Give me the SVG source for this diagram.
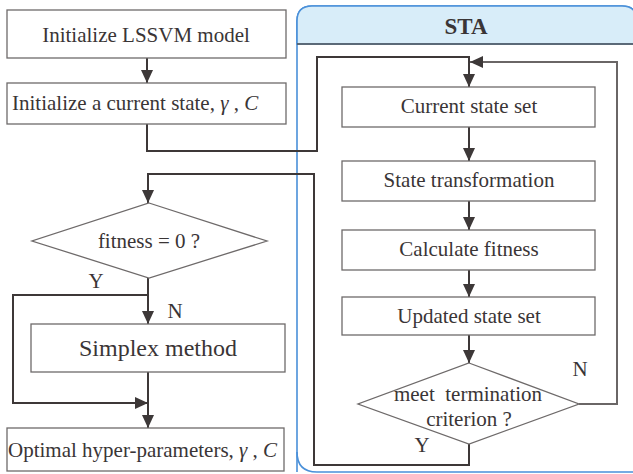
<svg xmlns="http://www.w3.org/2000/svg" width="633" height="474" viewBox="0 0 633 474">
<style>
.box{fill:#ffffff;stroke:#6e6a6a;stroke-width:1.3}
.t{font-family:'Liberation Serif','DejaVu Serif',serif;font-size:21px;fill:#3a3536}
.c{text-anchor:middle}
.conn{fill:none;stroke:#3d3838;stroke-width:2}
</style>
<defs>
<marker id="ah" markerUnits="userSpaceOnUse" markerWidth="13" markerHeight="12" refX="13" refY="6" orient="auto">
<path d="M0,0 L13,6 L0,12 z" fill="#3d3838"/>
</marker>
</defs>
<g id="sta-panel">
<path d="M297,472 L297,21 Q297,6 312,6 L622,6 Q637,6 637,21 L637,472" fill="#ffffff" stroke="#4a90d9" stroke-width="1.6"/>
<path d="M297,44 L297,21 Q297,6 312,6 L622,6 Q637,6 637,21 L637,44 z" fill="#d8edf9" stroke="#4a90d9" stroke-width="1.6"/>
<line x1="297" y1="44" x2="637" y2="44" stroke="#555" stroke-width="1.4"/>
<path d="M297,452 Q297,472 317,472 L637,472" fill="none" stroke="#4a90d9" stroke-width="1.6"/>
<text class="t c" x="466" y="34" style="font-weight:bold;font-size:23px">STA</text>
</g>
<g id="connectors">
<path class="conn" d="M147,58 L147,83" marker-end="url(#ah)"/>
<path class="conn" d="M147,124 L147,151 L317,151 L317,57 L469,57 L469,87" marker-end="url(#ah)"/>
<path class="conn" d="M469,127 L469,161" marker-end="url(#ah)"/>
<path class="conn" d="M469,201 L469,230" marker-end="url(#ah)"/>
<path class="conn" d="M469,270 L469,297" marker-end="url(#ah)"/>
<path class="conn" d="M469,335 L469,363" marker-end="url(#ah)"/>
<path class="conn" d="M579,404 L617,404 L617,62 L470,62" marker-end="url(#ah)" style="stroke:#6a6666"/>
<path class="conn" d="M469,444 L469,465 L314,465 L314,174 L148,174 L148,203" marker-end="url(#ah)"/>
<path class="conn" d="M148,278 L148,324" marker-end="url(#ah)"/>
<path class="conn" d="M148,295 L13,295 L13,403 L148,403" marker-end="url(#ah)"/>
<path class="conn" d="M148,372 L148,428" marker-end="url(#ah)"/>
<text class="t c" x="96" y="288">Y</text>
<text class="t c" x="175" y="318">N</text>
<text class="t c" x="580" y="376">N</text>
<text class="t c" x="422" y="452">Y</text>
</g>
<g id="init-lssvm">
<rect class="box" x="7" y="10" width="279" height="48"/>
<text class="t c" x="146" y="42">Initialize LSSVM model</text>
</g>
<g id="init-state">
<rect class="box" x="7" y="83" width="279" height="41"/>
<text class="t" x="12" y="110">Initialize a current state, <tspan font-style="italic">γ</tspan> , <tspan font-style="italic">C</tspan></text>
</g>
<g id="fitness-check">
<polygon class="box" points="149,203 267,241 149,278 32,241"/>
<text class="t c" x="149" y="248">fitness = 0 ?</text>
</g>
<g id="simplex">
<rect class="box" x="31" y="324" width="254" height="48"/>
<text class="t c" x="158" y="356" style="font-size:24px">Simplex method</text>
</g>
<g id="optimal">
<rect class="box" x="7" y="428" width="277" height="43"/>
<text class="t" x="8" y="457">Optimal hyper-parameters, <tspan font-style="italic">γ</tspan> , <tspan font-style="italic">C</tspan></text>
</g>
<g id="current-state">
<rect class="box" x="342" y="87" width="253" height="40"/>
<text class="t c" x="469" y="113">Current state set</text>
</g>
<g id="state-transformation">
<rect class="box" x="342" y="161" width="253" height="40"/>
<text class="t c" x="469" y="187">State transformation</text>
</g>
<g id="calc-fitness">
<rect class="box" x="342" y="230" width="253" height="40"/>
<text class="t c" x="469" y="256">Calculate fitness</text>
</g>
<g id="updated-state">
<rect class="box" x="342" y="297" width="253" height="38"/>
<text class="t c" x="469" y="323">Updated state set</text>
</g>
<g id="termination">
<polygon class="box" points="469,363 579,404 469,444 358,404"/>
<text class="t c" x="468" y="401" xml:space="preserve">meet  termination</text>
<text class="t c" x="469" y="426">criterion ?</text>
</g>
</svg>
